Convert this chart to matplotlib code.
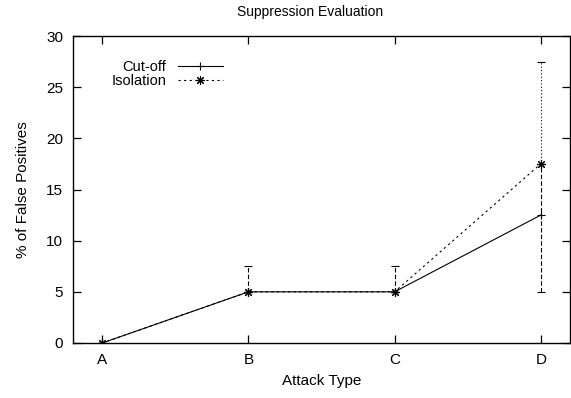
import matplotlib
matplotlib.use("Agg")
import matplotlib.pyplot as plt

plt.rcParams['font.family'] = ['Liberation Sans', 'DejaVu Sans']

# data
attack_types = ["A", "B", "C", "D"]
cutoff = [0, 5, 5, 12.5]
isolation = [0, 5, 5, 17.5]
cutoff_err_low = [0, 0, 0, 7.5]
cutoff_err_high = [0, 2.5, 2.5, 5]
isolation_err_low = [0, 0, 0, 0]
isolation_err_high = [0, 0, 0, 10]

x = list(range(len(attack_types)))

fig = plt.figure(figsize=(5.71, 3.98), dpi=100)
ax = fig.add_axes([73 / 571, 1 - 343 / 398, (570 - 73) / 571, (343 - 36) / 398])

# error bars
eb1 = ax.errorbar(x, cutoff, yerr=[cutoff_err_low, cutoff_err_high], fmt='none',
                  ecolor='black', elinewidth=0.8, capsize=3, capthick=0.8)
eb1[2][0].set_linestyle((0, (4, 2)))
eb2 = ax.errorbar(x, isolation, yerr=[isolation_err_low, isolation_err_high], fmt='none',
                  ecolor='black', elinewidth=0.8, capsize=3, capthick=0.8)
eb2[2][0].set_linestyle((0, (1, 2)))

ax.plot(x, cutoff, color='black', lw=0.8, marker='+', markersize=6,
        markeredgewidth=0.8, label='Cut-off')
ax.plot(x, isolation, color='black', lw=0.8, ls=(0, (2, 3)), marker=(8, 2, 0),
        markersize=6.5, markeredgewidth=0.8, label='Isolation')

ax.set_xlim(-0.2, 3.2)
ax.set_ylim(0, 30)
ax.set_xticks(x)
ax.set_xticklabels(attack_types)
ax.set_yticks(range(0, 31, 5))
ax.tick_params(direction='in', length=6, width=0.9, top=True, right=True,
               labelsize=11, pad=7)
for s in ax.spines.values():
    s.set_linewidth(1.0)

ax.set_xlabel("Attack Type", fontsize=11, labelpad=5)
ax.set_ylabel("% of False Positives", fontsize=11, labelpad=12)
fig.text(310 / 571, 1 - 12 / 398, "Suppression Evaluation", ha='center', va='center', fontsize=10)

ax.legend(loc='upper right', bbox_to_anchor=(223 / 571, 1 - 60 / 398),
          bbox_transform=fig.transFigure, borderpad=0, borderaxespad=0,
          frameon=False, markerfirst=False, fontsize=10.5,
          handlelength=3.1, handletextpad=0.8, labelspacing=0.0)

fig.savefig("out.png", dpi=100)
